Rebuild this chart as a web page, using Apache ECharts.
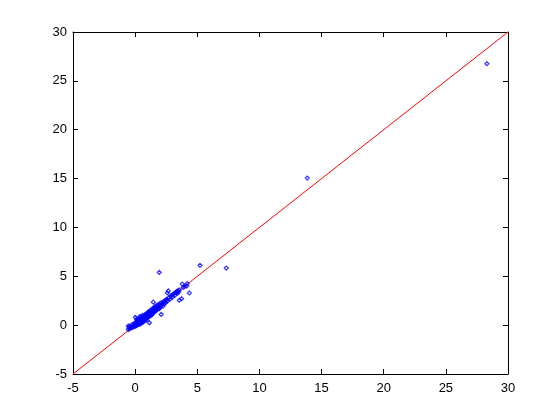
<!DOCTYPE html>
<html>
<head>
<meta charset="utf-8">
<script src="https://cdn.jsdelivr.net/npm/echarts@6/dist/echarts.min.js"></script>
<style>html,body{margin:0;padding:0;background:#fff}#c{width:560px;height:420px}</style>
</head>
<body>
<div id="c"></div>
<script>
var xTicks = [-5, 0, 5, 10, 15, 20, 25, 30];
var yTicks = [-5, 0, 5, 10, 15, 20, 25, 30];
var lineX = [-5, 30];
var lineY = [-5, 30];
var pts = [
[-0.55,-0.45],[-0.55,-0.1],[-0.5,-0.3],[-0.45,-0.1],[-0.4,-0.35],[-0.3,-0.2],[-0.25,0.05],[-0.2,-0.25],
[-0.15,-0.05],[-0.1,0.1],[-0.05,-0.15],[0,0],[0,0.2],[0.02,0.8],[0.05,-0.1],[0.08,0.35],[0.1,0.1],
[0.12,0.6],[0.15,0.0],[0.18,0.3],[0.2,0.2],[0.22,0.5],[0.25,0.05],[0.28,0.4],[0.3,0.25],[0.3,0.7],
[0.32,0.15],[0.35,0.55],[0.38,0.35],[0.4,0.9],[0.4,0.1],[0.42,0.5],[0.45,0.3],[0.48,0.65],[0.5,0.45],
[0.5,0.2],[0.52,0.8],[0.55,0.55],[0.58,0.35],[0.6,0.7],[0.6,1.0],[0.62,0.5],[0.65,0.3],[0.68,0.8],
[0.7,0.6],[0.72,0.45],[0.75,0.9],[0.78,0.7],[0.8,0.55],[0.8,1.1],[0.82,0.85],[0.85,0.65],[0.88,1.0],
[0.9,0.8],[0.92,0.5],[0.95,1.2],[0.98,0.9],[1.0,1.0],[1.0,0.75],[1.02,1.3],[1.05,0.95],[1.08,1.15],
[1.1,0.85],[1.12,1.4],[1.15,1.05],[1.15,0.24],[1.18,1.25],[1.2,0.95],[1.22,1.5],[1.25,1.2],[1.28,1.0],
[1.3,1.35],[1.32,1.6],[1.35,1.25],[1.38,1.1],[1.4,1.45],[1.42,1.7],[1.45,1.35],[1.46,2.35],[1.48,1.55],
[1.5,1.3],[1.52,1.8],[1.55,1.5],[1.58,1.65],[1.6,1.4],[1.62,1.9],[1.65,1.6],[1.68,1.75],[1.7,1.5],
[1.72,2.0],[1.75,1.7],[1.78,1.85],[1.8,1.6],[1.85,2.1],[1.88,1.8],[1.9,1.95],[1.94,5.4],[1.95,1.7],
[2.0,2.2],[2.02,2.0],[2.05,1.85],[2.1,1.1],[2.1,2.3],[2.15,2.05],[2.2,2.2],[2.25,1.95],[2.3,2.4],
[2.35,2.2],[2.4,2.5],[2.45,2.3],[2.5,2.6],[2.54,2.63],[2.59,3.3],[2.6,2.45],[2.67,3.5],[2.7,2.8],
[2.8,2.65],[2.85,2.95],[2.9,3.0],[3.0,2.85],[3.05,3.15],[3.1,3.2],[3.2,3.05],[3.25,3.35],[3.3,3.3],
[3.35,3.45],[3.4,3.25],[3.45,3.5],[3.5,3.4],[3.55,2.55],[3.55,3.6],[3.74,2.7],[3.79,4.2],[3.87,3.87],
[3.98,3.97],[4.15,4.0],[4.2,4.25],[4.36,3.3],[5.22,6.12],[7.33,5.84],[13.85,15.05],[28.3,26.75]
];

var chart = echarts.init(document.getElementById('c'), null, {renderer: 'canvas'});
var font = {fontFamily: 'Liberation Sans', fontSize: 13, color: '#000'};
var axLine = {show: true, onZero: false, lineStyle: {color: '#000', width: 1}};
var tick = {show: true, inside: true, length: 5, lineStyle: {color: '#000'}};
chart.setOption({
  animation: false,
  backgroundColor: '#fff',
  grid: {left: 73, right: 52, top: 32, bottom: 46, containLabel: false},
  xAxis: [
    {type: 'value', min: xTicks[0], max: xTicks[xTicks.length-1], interval: 5, position: 'bottom',
     axisLine: axLine, axisTick: tick, splitLine: {show: false},
     axisLabel: Object.assign({margin: 8}, font)},
    {type: 'value', min: xTicks[0], max: xTicks[xTicks.length-1], interval: 5, position: 'top',
     axisLine: axLine, axisTick: tick, splitLine: {show: false}, axisLabel: {show: false}}
  ],
  yAxis: [
    {type: 'value', min: yTicks[0], max: yTicks[yTicks.length-1], interval: 5, position: 'left',
     axisLine: axLine, axisTick: tick, splitLine: {show: false},
     axisLabel: Object.assign({margin: 6}, font)},
    {type: 'value', min: yTicks[0], max: yTicks[yTicks.length-1], interval: 5, position: 'right',
     axisLine: axLine, axisTick: tick, splitLine: {show: false}, axisLabel: {show: false}}
  ],
  series: [
    {type: 'scatter', xAxisIndex: 0, yAxisIndex: 0, data: pts, symbol: 'diamond', symbolSize: 4,
     itemStyle: {color: 'rgba(0,0,0,0)', borderColor: '#0000ff', borderWidth: 1.2}, z: 3},
    {type: 'line', xAxisIndex: 0, yAxisIndex: 0, data: [[lineX[0], lineY[0]], [lineX[1], lineY[1]]],
     symbol: 'none', lineStyle: {color: '#ff0000', width: 1}, z: 2}
  ]
});
</script>
</body>
</html>
